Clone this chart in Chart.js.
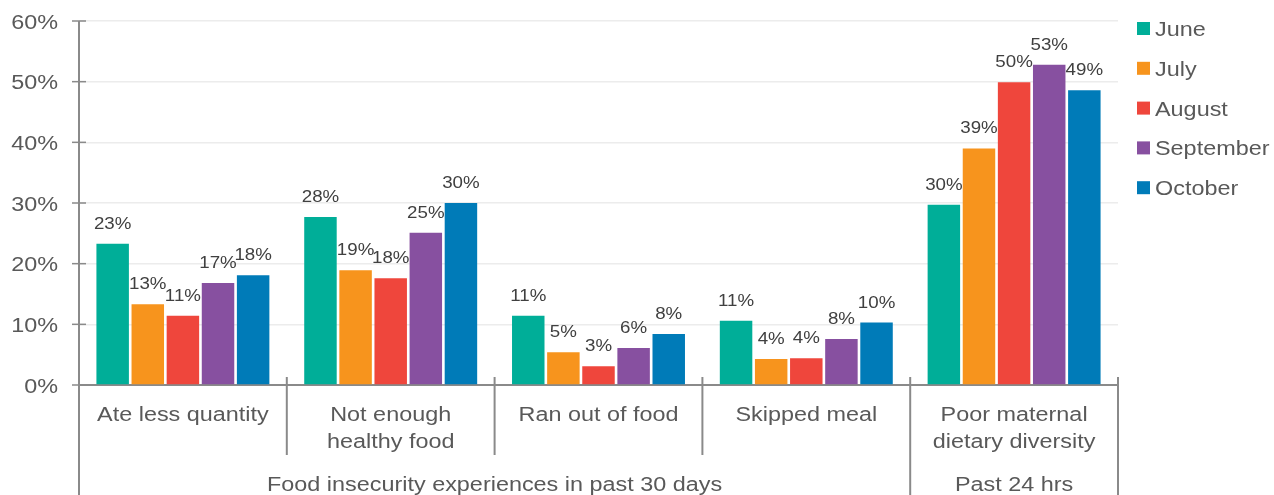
<!DOCTYPE html>
<html>
<head>
<meta charset="utf-8">
<script src="https://cdn.jsdelivr.net/npm/chart.js@4.4.1/dist/chart.umd.min.js"></script>
<style>
	html, body { margin: 0; padding: 0; background: #fff; }
	#wrap { position: relative; width: 1274px; height: 495px; }
</style>
</head>
<body>
<div id="wrap"><canvas id="chart"></canvas></div>
<script>
'use strict';

const categories = [
	['Ate less quantity'],
	['Not enough', 'healthy food'],
	['Ran out of food'],
	['Skipped meal'],
	['Poor maternal', 'dietary diversity']
];
const groups = ['Food insecurity experiences in past 30 days', 'Past 24 hrs'];
const groupSpans = [4, 1];

const months = ['June', 'July', 'August', 'September', 'October'];
const june = [23.3, 27.7, 11.4, 10.6, 29.7];
const july = [13.3, 18.9, 5.4, 4.3, 39.0];
const august = [11.4, 17.6, 3.1, 4.4, 49.9];
const september = [16.8, 25.1, 6.1, 7.6, 52.8];
const october = [18.1, 30.0, 8.4, 10.3, 48.6];
const colors = ['#00ae98', '#f7941d', '#ef463c', '#8750a0', '#007bb8'];

const yTicks = [0, 10, 20, 30, 40, 50, 60];

const FONT = '"Liberation Sans", Arial, sans-serif';
const SX = 1.17;           // text in this chart is set slightly wide
const AXIS = '#8a8a8a';

function wideText(ctx, text, x, y, align) {
	ctx.save();
	ctx.translate(x, y);
	ctx.scale(SX, 1);
	ctx.textAlign = align || 'center';
	ctx.fillText(text, 0, 0);
	ctx.restore();
}

function line(ctx, x1, y1, x2, y2) {
	ctx.beginPath();
	ctx.moveTo(x1, y1);
	ctx.lineTo(x2, y2);
	ctx.stroke();
}

// value labels over the bars
const barLabels = {
	id: 'barLabels',
	afterDatasetsDraw(chart) {
		const ctx = chart.ctx;
		ctx.save();
		ctx.font = '16px ' + FONT;
		ctx.fillStyle = '#404040';
		ctx.textBaseline = 'alphabetic';
		chart.data.datasets.forEach((ds, i) => {
			chart.getDatasetMeta(i).data.forEach((bar, j) => {
				wideText(ctx, Math.round(ds.data[j]) + '%', bar.x, bar.y - 15, 'center');
			});
		});
		ctx.restore();
	}
};

// y labels, tick marks, two-level category axis and legend
const axisDecor = {
	id: 'axisDecor',
	afterDraw(chart) {
		const ctx = chart.ctx;
		const area = chart.chartArea;
		const y = chart.scales.y;
		const x = chart.scales.x;
		const H = chart.height;
		const step = (area.right - area.left) / categories.length;

		ctx.save();
		ctx.strokeStyle = AXIS;
		ctx.lineWidth = 2;

		// y axis runs down through the category rows
		line(ctx, area.left, area.top, area.left, H);

		ctx.lineWidth = 1.5;
		ctx.font = '20px ' + FONT;
		ctx.fillStyle = '#595959';
		ctx.textBaseline = 'alphabetic';
		yTicks.forEach(v => {
			const py = y.getPixelForValue(v);
			line(ctx, area.left - 7, py, area.left + 7, py);
			wideText(ctx, v + '%', area.left - 21, py + 7.5, 'right');
		});

		// separators between categories
		ctx.lineWidth = 2;
		let idx = 0;
		const groupEnds = groupSpans.map(n => (idx += n));
		for (let i = 1; i <= categories.length; i++) {
			const px = area.left + step * i;
			const bottom = groupEnds.includes(i) ? H : area.bottom + 70;
			line(ctx, px, area.bottom - 8, px, bottom);
		}

		categories.forEach((lines, i) => {
			const cx = x.getPixelForValue(i);
			lines.forEach((t, k) => wideText(ctx, t, cx, area.bottom + 35.5 + k * 27.5, 'center'));
		});

		let start = 0;
		groups.forEach((g, i) => {
			const x0 = area.left + step * start;
			const x1 = area.left + step * (start + groupSpans[i]);
			wideText(ctx, g, (x0 + x1) / 2, H - 4, 'center');
			start += groupSpans[i];
		});

		// legend
		months.forEach((m, i) => {
			const ly = 36 + i * 39.8;
			ctx.fillStyle = colors[i];
			ctx.fillRect(1137, ly - 14, 13, 13);
			ctx.fillStyle = '#595959';
			wideText(ctx, m, 1155, ly, 'left');
		});
		ctx.restore();
	}
};

const seriesValues = [june, july, august, september, october];

new Chart(document.getElementById('chart'), {
	type: 'bar',
	data: {
		labels: categories,
		datasets: months.map((m, i) => ({
			label: m,
			data: seriesValues[i],
			backgroundColor: colors[i],
			borderWidth: 0,
			categoryPercentage: 0.845,
			barPercentage: 0.925
		}))
	},
	options: {
		responsive: true,
		maintainAspectRatio: false,
		animation: false,
		events: [],
		layout: { padding: { left: 79, top: 21, right: 156, bottom: 110 } },
		plugins: { legend: { display: false }, tooltip: { enabled: false } },
		scales: {
			x: {
				grid: { display: false, drawTicks: false },
				border: { display: true, color: AXIS, width: 2 },
				ticks: { display: false }
			},
			y: {
				min: 0,
				max: 60,
				ticks: { display: false, stepSize: 10 },
				grid: { color: '#ececec', lineWidth: 1.5, drawTicks: false },
				border: { display: false }
			}
		}
	},
	plugins: [barLabels, axisDecor]
});
</script>
</body>
</html>
